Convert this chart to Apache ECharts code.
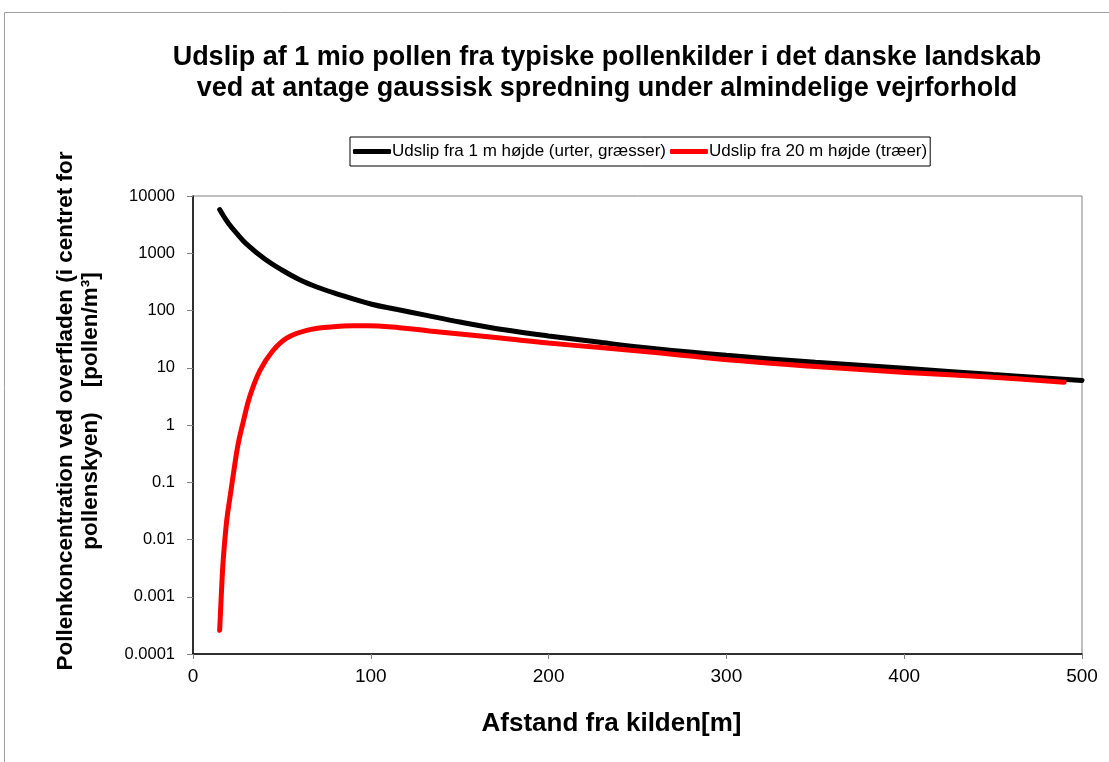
<!DOCTYPE html>
<html>
<head>
<meta charset="utf-8">
<script src="https://cdn.jsdelivr.net/npm/echarts@6/dist/echarts.min.js"></script>
<style>
  html, body { margin: 0; padding: 0; background: #fff; }
  #main { width: 1109px; height: 762px; }
</style>
</head>
<body>
<div id="main"></div>
<script>
// afstand [m] og koncentration
var lowX = [15, 20, 25, 30, 40, 50, 60, 70, 80, 100, 115, 130, 150, 175, 200, 230, 260, 300, 350, 400, 450, 500];
var lowY = [5800, 3300, 2150, 1460, 810, 510, 345, 255, 200, 130, 104, 84, 63, 46, 36, 27.5, 21.5, 16.5, 12.5, 9.8, 7.6, 6];

var highX = [15, 16, 17, 19, 21, 23, 25.3, 28.3, 32, 37.7, 45, 52.7, 64, 79, 90, 98, 116, 133, 173, 200, 229, 260, 308, 350, 401, 450, 490];
var highY = [0.00026, 0.0012, 0.0044, 0.022, 0.06, 0.16, 0.45, 1.15, 3.2, 9, 20, 33, 45, 52, 54, 54, 50, 44, 33, 27, 22.5, 18.5, 13.2, 10.5, 8.3, 6.8, 5.6];

var yTicks = ['0.0001', '0.001', '0.01', '0.1', '1', '10', '100', '1000', '10000'];
var xTicks = [0, 100, 200, 300, 400, 500];

function pairs(xs, ys) {
  return xs.map(function (x, i) { return [x, ys[i]]; });
}

var chart = echarts.init(document.getElementById('main'));
chart.setOption({
  animation: false,
  textStyle: { fontFamily: 'Liberation Sans, Arial, sans-serif' },
  title: {
    text: 'Udslip af 1 mio pollen fra typiske pollenkilder i det danske landskab\nved at antage gaussisk spredning under almindelige vejrforhold',
    left: 602,
    top: 37,
    textAlign: 'center',
    textStyle: { fontSize: 27, fontWeight: 'bold', color: '#000', lineHeight: 31 }
  },
  graphic: [{
    type: 'rect',
    shape: { x: 4.5, y: 12.5, width: 1120, height: 770 },
    style: { fill: 'none', stroke: '#a0a0a0', lineWidth: 1 },
    silent: true
  }],
  legend: {
    left: 350,
    top: 137,
    icon: 'roundRect',
    itemWidth: 38,
    itemHeight: 5,
    itemGap: 4,
    padding: [6, 3, 6, 3],
    borderColor: '#000',
    borderWidth: 1,
    textStyle: { fontSize: 17, color: '#000', padding: [0, 0, 0, -4] },
    data: ['Udslip fra 1 m højde (urter, græsser)', 'Udslip fra 20 m højde (træer)']
  },
  grid: {
    left: 193, top: 196, right: 27, bottom: 108,
    show: true, borderColor: '#808080', borderWidth: 1
  },
  xAxis: {
    type: 'value',
    min: 0, max: 500, interval: 100,
    name: 'Afstand fra kilden[m]',
    nameLocation: 'middle',
    nameGap: 57,
    nameTextStyle: { fontSize: 26, fontWeight: 'bold', color: '#000', padding: [0, 52, 0, 0] },
    axisLine: { lineStyle: { color: '#000', width: 1.5 } },
    axisTick: { show: true, length: 5, lineStyle: { color: '#808080' } },
    axisLabel: {
      fontSize: 19, color: '#000', margin: 13,
      formatter: function (v) { return xTicks.indexOf(v) >= 0 ? String(v) : ''; }
    },
    splitLine: { show: false }
  },
  yAxis: {
    type: 'log',
    logBase: 10,
    min: 0.0001, max: 10000,
    name: 'Pollenkoncentration ved overfladen (i centret for\npollenskyen)    [pollen/m³]',
    nameLocation: 'middle',
    nameRotate: 90,
    nameGap: 90,
    nameMoveOverlap: false,
    nameTextStyle: { fontSize: 22.5, fontWeight: 'bold', color: '#000', lineHeight: 25, padding: [0, 0, 0, 28] },
    axisLine: { show: true, lineStyle: { color: '#000', width: 1.5 } },
    axisTick: { show: true, length: 6, lineStyle: { color: '#808080' } },
    axisLabel: {
      fontSize: 16.5, color: '#000', margin: 18,
      formatter: function (v) {
        var k = Math.round(Math.log(v) / Math.LN10) + 4;
        return yTicks[k] || '';
      }
    },
    minorTick: { show: false },
    splitLine: { show: false }
  },
  series: [{
    name: 'Udslip fra 1 m højde (urter, græsser)',
    type: 'line',
    data: pairs(lowX, lowY),
    smooth: 0.4,
    symbol: 'none',
    z: 3,
    lineStyle: { color: '#000', width: 5, cap: 'round' },
    itemStyle: { color: '#000' }
  }, {
    name: 'Udslip fra 20 m højde (træer)',
    type: 'line',
    data: pairs(highX, highY),
    smooth: 0.4,
    symbol: 'none',
    z: 4,
    lineStyle: { color: '#ff0000', width: 5, cap: 'round' },
    itemStyle: { color: '#ff0000' }
  }]
});
</script>
</body>
</html>
